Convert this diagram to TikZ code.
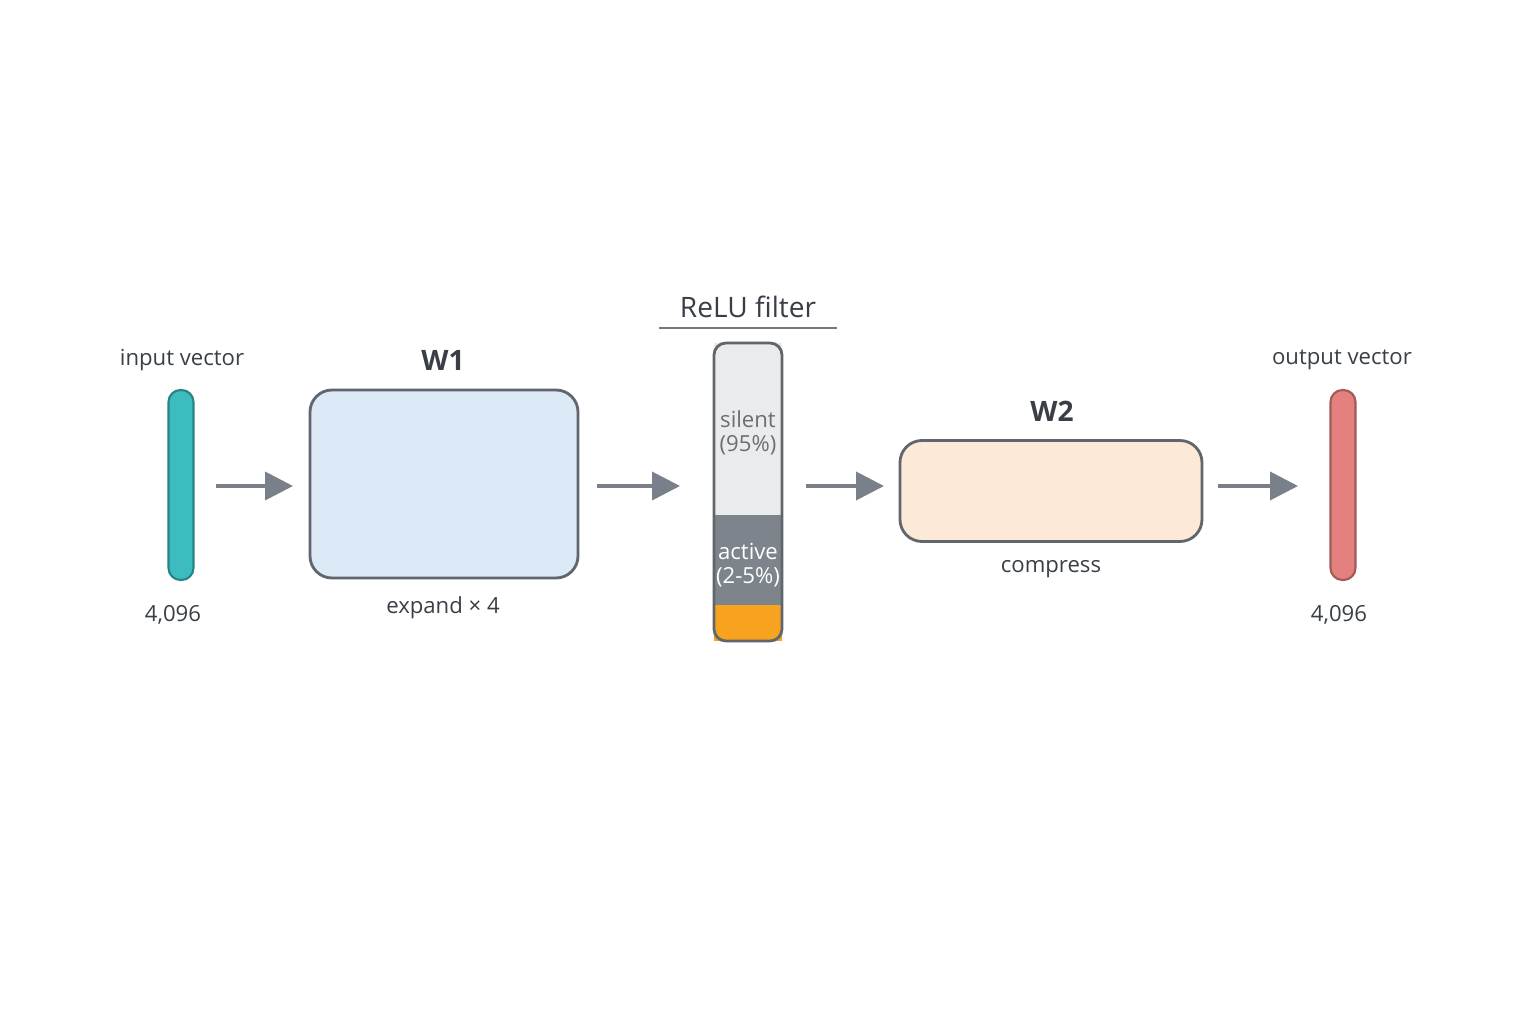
\documentclass[tikz,border=0pt]{standalone}
\usepackage{fontspec}
\setmainfont{Open Sans}
\usetikzlibrary{arrows.meta, positioning}
\definecolor{inkgray}{HTML}{3A3F47}
\definecolor{arrowgray}{HTML}{7A8089}
\definecolor{tealbar}{HTML}{3CBCBE}
\definecolor{redbar}{HTML}{E4807D}
\definecolor{wone}{HTML}{DCE9F7}
\definecolor{wtwo}{HTML}{FDE9D7}
\definecolor{silentgray}{HTML}{EAEBEC}
\definecolor{activegray}{HTML}{7E848C}
\definecolor{activeorange}{HTML}{F8A31F}
\tikzset{
	flow/.style={-{Triangle[length=2.8mm,width=2.8mm]}, line width=1.1pt, draw=arrowgray},
	vec/.style={draw=#1!70!black, fill=#1, rounded corners=1.2mm, line width=0.6pt,
		minimum width=2.5mm, minimum height=19mm, inner sep=0pt},
	weights/.style={draw=inkgray!80, fill=#1, rounded corners=2.2mm, line width=0.8pt, inner sep=0pt},
	lbl/.style={text=inkgray, font=\fontsize{6.3}{7}\selectfont},
	title/.style={text=inkgray, font=\fontsize{8}{9}\selectfont\bfseries},
	band/.style={minimum width=6.8mm, inner sep=0pt, outer sep=0pt},
}
\begin{document}
\begin{tikzpicture}[x=0.1mm, y=-0.1mm]
	\useasboundingbox[fill=white] (0,0) rectangle (1536,1024);
	% vectors
	\node[vec=tealbar] (in) at (181,485) {};
	\node[vec=redbar] (out) at (1343,485) {};
	\node[lbl] (inlbl) at (182,360) {input vector};
	\node[lbl] (indim) at (173,615) {4,096};
	\node[lbl] (outlbl) at (1342,360) {output vector};
	\node[lbl] (outdim) at (1339,615) {4,096};
	% weight matrices
	\node[weights=wone, minimum width=26.8mm, minimum height=18.8mm] (w1) at (444,484) {};
	\node[title] (w1t) at (443,360) {W1};
	\node[lbl] (w1l) at (443,608) {expand × 4};
	\node[weights=wtwo, minimum width=30.2mm, minimum height=10.1mm] (w2) at (1051,491) {};
	\node[title] (w2t) at (1052,411) {W2};
	\node[lbl] (w2l) at (1051,569) {compress};
	% relu filter
	\node[band, minimum height=17.2mm, fill=silentgray] (silent) at (748,429) {};
	\node[band, minimum height=9mm, fill=activegray] (active) at (748,560) {};
	\node[band, minimum height=3.6mm, fill=activeorange] (fire) at (748,623) {};
	\draw[inkgray!80, line width=0.8pt, rounded corners=1.2mm] (714,343) rectangle (782,641);
	\node[lbl, text=inkgray!75, align=center] (silentl) at (748,433) {silent\\(95\%)};
	\node[lbl, text=white, align=center] (activel) at (748,565) {active\\(2-5\%)};
	\node[text=inkgray, font=\fontsize{8}{9}\selectfont] (relu) at (748,307) {ReLU filter};
	\coordinate (ulA) at (659,328);
	\coordinate (ulB) at (837,328);
	\draw[inkgray!70, line width=0.5pt] (ulA) -- (ulB);
	% arrows
	\coordinate (a1) at (216,486); \coordinate (b1) at (293,486);
	\coordinate (a2) at (597,486); \coordinate (b2) at (680,486);
	\coordinate (a3) at (806,486); \coordinate (b3) at (884,486);
	\coordinate (a4) at (1218,486); \coordinate (b4) at (1298,486);
	\foreach \i in {1,...,4}
		\draw[flow] (a\i) -- (b\i);
\end{tikzpicture}
\end{document}
